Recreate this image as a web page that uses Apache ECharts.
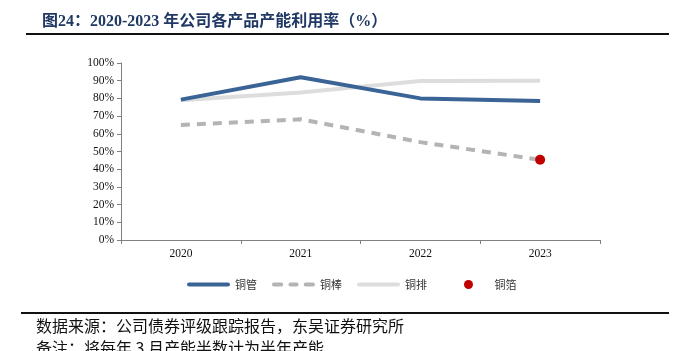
<!DOCTYPE html>
<html><head><meta charset="utf-8">
<script src="https://cdn.jsdelivr.net/npm/echarts@6/dist/echarts.min.js"></script>
<style>
html,body{margin:0;padding:0;background:#fff;}
#c{width:689px;height:351px;}
</style></head>
<body><div id="c"></div>
<script>
const categories = ['2020','2021','2022','2023'];
const tongGuan = [79.3, 92, 80, 78.6];
const tongBang = [65, 68.2, 55.3, 45.3];
const tongPai = [79, 83.3, 89.8, 90];
const tongBo = [null, null, null, 45.3];
const yTicks = [0, 10, 20, 30, 40, 50, 60, 70, 80, 90, 100];
const titleText = '图24：2020-2023 年公司各产品产能利用率（%）';
const sourceText = '数据来源：公司债券评级跟踪报告，东吴证券研究所';
const noteText = '备注：将每年 3 月产能半数计为半年产能';

const serif = "'Liberation Serif','Noto Sans CJK SC',serif";
const solidIcon = 'path://M2,0h38a2,2 0 0 1 0,4h-38a2,2 0 0 1 0,-4z';
const dashIcon = 'path://M2,0h7a2,2 0 0 1 0,4h-7a2,2 0 0 1 0,-4z M18,0h6a2,2 0 0 1 0,4h-6a2,2 0 0 1 0,-4z M33,0h7a2,2 0 0 1 0,4h-7a2,2 0 0 1 0,-4z';
const legendText = {fontFamily:"'Noto Sans CJK SC'", fontSize:11, color:'#333'};
const chart = echarts.init(document.getElementById('c'), null, {renderer:'canvas'});
chart.setOption({
  animation:false,
  backgroundColor:'#fff',
  title:{
    text:titleText, left:37, top:9,
    textStyle:{fontFamily:serif, fontSize:16, fontWeight:'bold', color:'#1F3864'}
  },
  graphic:[
    {type:'line', shape:{x1:26,y1:34,x2:669,y2:34}, style:{stroke:'#111',lineWidth:2}},
    {type:'line', shape:{x1:21,y1:313,x2:669,y2:313}, style:{stroke:'#111',lineWidth:2}},
    {type:'text', left:36, top:318, style:{text:sourceText, font:"16px 'Noto Sans CJK SC'", fill:'#111'}},
    {type:'text', left:36, top:340, style:{text:noteText, font:"16px 'Noto Sans CJK SC'", fill:'#111'}}
  ],
  grid:{left:121, right:89, top:63, bottom:111, containLabel:false},
  legend:[{
    left:182, top:274, itemWidth:43, itemHeight:9, itemGap:15,
    textStyle:legendText,
    data:[
      {name:'铜管', icon:solidIcon},
      {name:'铜棒', icon:dashIcon},
      {name:'铜排', icon:solidIcon}
    ]
  },{
    left:459, top:274, itemWidth:10, itemHeight:9,
    textStyle:Object.assign({padding:[0,0,0,16]}, legendText),
    data:[{name:'铜箔', icon:'circle'}]
  }],
  xAxis:{
    type:'category', data:categories, boundaryGap:true,
    axisLine:{lineStyle:{color:'#808080', width:1}},
    axisTick:{show:true, length:4, lineStyle:{color:'#808080'}},
    axisLabel:{fontFamily:serif, fontSize:11.5, color:'#111', margin:8}
  },
  yAxis:{
    type:'value', min:yTicks[0], max:yTicks[yTicks.length-1], interval:yTicks[1]-yTicks[0],
    axisLine:{show:true, lineStyle:{color:'#808080'}},
    axisTick:{show:true, length:4, inside:false, lineStyle:{color:'#808080'}},
    splitLine:{show:false},
    axisLabel:{fontFamily:serif, fontSize:11.5, color:'#111', margin:7, formatter:v=>v+'%'}
  },
  series:[
    {name:'铜管', type:'line', data:tongGuan, symbol:'none', color:'#3A6496',
     lineStyle:{width:4, color:'#3A6496'}, z:3},
    {name:'铜棒', type:'line', data:tongBang, symbol:'none', color:'#B4B4B4',
     lineStyle:{width:4, color:'#B4B4B4', type:[9,7]}, z:2},
    {name:'铜排', type:'line', data:tongPai, symbol:'none', color:'#DDDDDD',
     lineStyle:{width:4, color:'#DDDDDD'}, z:1},
    {name:'铜箔', type:'scatter', data:tongBo, symbol:'circle', symbolSize:10, color:'#C00000',
     itemStyle:{color:'#C00000', opacity:1}, z:4}
  ]
});
</script></body></html>
